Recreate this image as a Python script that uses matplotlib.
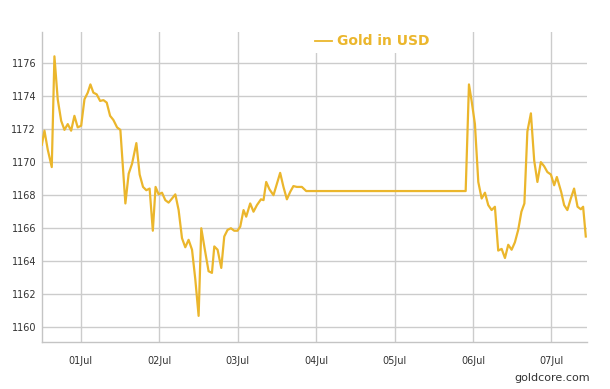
import pandas as pd
import matplotlib
matplotlib.use("Agg")
import matplotlib.pyplot as plt
import matplotlib.dates as mdates

# hourly-ish gold price, time in days from 2015-07-01 00:00
days = [-0.499, -0.465, -0.423, -0.372, -0.338, -0.296, -0.252, -0.210, -0.168, -0.125,
        -0.083, -0.041, 0.003, 0.045, 0.087, 0.121, 0.159, 0.201, 0.245, 0.287,
        0.329, 0.372, 0.414, 0.461, 0.503, 0.567, 0.609, 0.652, 0.707, 0.749,
        0.792, 0.834, 0.876, 0.917, 0.952, 0.991, 1.034, 1.076, 1.118, 1.162,
        1.204, 1.246, 1.289, 1.331, 1.373, 1.417, 1.459, 1.501, 1.535, 1.577,
        1.628, 1.671, 1.701, 1.743, 1.790, 1.828, 1.870, 1.913, 1.955, 1.997,
        2.032, 2.074, 2.108, 2.159, 2.201, 2.245, 2.296, 2.329, 2.363, 2.405,
        2.456, 2.541, 2.583, 2.627, 2.669, 2.710, 2.754, 2.818, 2.873, 4.907,
        4.949, 4.983, 5.025, 5.068, 5.111, 5.153, 5.195, 5.238, 5.280, 5.322,
        5.366, 5.408, 5.450, 5.493, 5.535, 5.577, 5.618, 5.656, 5.694, 5.739,
        5.781, 5.822, 5.866, 5.908, 5.949, 5.994, 6.036, 6.070, 6.125, 6.163,
        6.204, 6.248, 6.290, 6.334, 6.376, 6.405, 6.439]
price = [1171.05, 1171.9, 1170.75, 1169.7, 1176.4, 1173.8, 1172.5, 1171.95, 1172.3, 1171.9,
         1172.8, 1172.1, 1172.2, 1173.8, 1174.2, 1174.7, 1174.2, 1174.1, 1173.7, 1173.75,
         1173.6, 1172.8, 1172.55, 1172.1, 1171.95, 1167.5, 1169.3, 1169.9, 1171.15, 1169.25,
         1168.5, 1168.3, 1168.4, 1165.85, 1168.5, 1168.05, 1168.15, 1167.7, 1167.55, 1167.8,
         1168.05, 1167.1, 1165.4, 1164.85, 1165.3, 1164.7, 1162.9, 1160.7, 1166.0, 1164.8,
         1163.4, 1163.3, 1164.9, 1164.7, 1163.6, 1165.5, 1165.9, 1166.0, 1165.85, 1165.85,
         1166.1, 1167.1, 1166.7, 1167.5, 1167.0, 1167.4, 1167.75, 1167.7, 1168.8, 1168.35,
         1168.0, 1169.35, 1168.5, 1167.75, 1168.2, 1168.55, 1168.5, 1168.5, 1168.25, 1168.25,
         1174.7, 1173.7, 1172.3, 1168.8, 1167.8, 1168.15, 1167.4, 1167.1, 1167.3, 1164.65,
         1164.75, 1164.2, 1165.0, 1164.7, 1165.15, 1165.9, 1167.0, 1167.5, 1171.85, 1172.95,
         1170.1, 1168.8, 1170.0, 1169.75, 1169.4, 1169.25, 1168.6, 1169.1, 1168.2, 1167.4,
         1167.1, 1167.8, 1168.4, 1167.3, 1167.15, 1167.3, 1165.5]
yticks = [1160, 1162, 1164, 1166, 1168, 1170, 1172, 1174, 1176]

base = pd.Timestamp("2015-07-01")
times = base + pd.to_timedelta(days, unit="D")

GOLD = "#ebb62c"
GRID = "#cccccc"

fig = plt.figure(figsize=(6.10, 3.89), dpi=100)
ax = fig.add_axes([0.0684, 0.120, 0.8946, 0.799])

line, = ax.plot(times, price, color=GOLD, lw=1.6, label="Gold in USD", zorder=3)

ax.set_xlim(base + pd.Timedelta(days=-0.5), base + pd.Timedelta(days=6.46))
ax.set_ylim(1159.1, 1177.9)
ax.set_yticks(yticks)
ax.xaxis.set_major_locator(mdates.DayLocator())
ax.xaxis.set_major_formatter(mdates.DateFormatter("%d%b"))

ax.grid(True, color=GRID, lw=1.0)
ax.set_axisbelow(True)
for s in ["top", "right"]:
    ax.spines[s].set_visible(False)
for s in ["left", "bottom"]:
    ax.spines[s].set_color("#c4c4c4")
    ax.spines[s].set_linewidth(1.0)
ax.tick_params(length=0, labelsize=7, colors="#333333")
ax.tick_params(axis="x", pad=10)
ax.tick_params(axis="y", pad=4)

leg = ax.legend(loc="upper left", bbox_to_anchor=(0.498, 0.94), bbox_transform=fig.transFigure,
                frameon=True, facecolor="white", edgecolor="none", framealpha=1,
                handlelength=1.2, handletextpad=0.4, borderpad=0.3,
                prop={"weight": "bold", "size": 10}, labelcolor=GOLD)
leg.get_lines()[0].set_linewidth(1.3)

fig.text(0.967, 0.028, "goldcore.com", ha="right", va="center", fontsize=8, color="#333333")

fig.savefig("out.png", dpi=100)
